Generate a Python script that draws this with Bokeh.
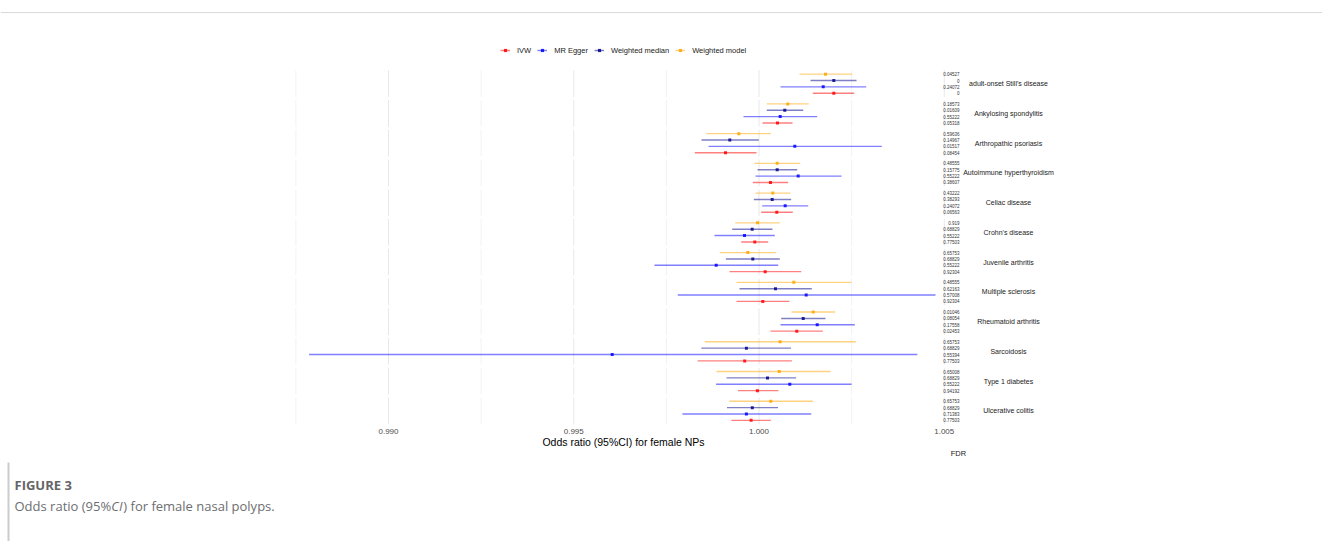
from bokeh.plotting import figure
from bokeh.layouts import column
from bokeh.models import (Range1d, Legend, LegendItem, FixedTicker,
                          PrintfTickFormatter, ColumnDataSource, Span)
from bokeh.core.properties import value
from bokeh.embed import file_html
from bokeh.resources import INLINE

# ---------------- data ----------------
diseases = ["adult-onset Still's disease", "Ankylosing spondylitis", "Arthropathic psoriasis",
            "Autoimmune hyperthyroidism", "Celiac disease", "Crohn's disease",
            "Juvenile arthritis", "Multiple sclerosis", "Rheumatoid arthritis",
            "Sarcoidosis", "Type 1 diabetes", "Ulcerative colitis"]

methods = ["IVW", "MR Egger", "Weighted median", "Weighted model"]

ivw_or = [1.002019, 1.000499, 0.999096, 1.000310, 1.000480, 0.999887,
          1.000167, 1.000103, 1.001020, 0.999614, 0.999957, 0.999787]
ivw_lo = [1.001452, 1.000094, 0.998267, 0.999833, 1.000059, 0.999520,
          0.999204, 0.999393, 1.000310, 0.998343, 0.999433, 0.999252]
ivw_hi = [1.002570, 1.000904, 0.999933, 1.000788, 1.000912, 1.000248,
          1.001139, 1.000823, 1.001722, 1.000888, 1.000524, 1.000318]
ivw_fdr = ["0", "0.05318", "0.08454", "0.38607", "0.06563", "0.77503",
           "0.92304", "0.92304", "0.02453", "0.77503", "0.94192", "0.77503"]

egger_or = [1.001733, 1.000572, 1.000966, 1.001058, 1.000707, 0.999609,
            0.998845, 1.001274, 1.001571, 0.996038, 1.000831, 0.999660]
egger_lo = [1.000580, 0.999582, 0.998637, 0.999906, 1.000086, 0.998799,
            0.997179, 0.997808, 1.000580, 0.987857, 0.998842, 0.997933]
egger_hi = [1.002893, 1.001571, 1.003314, 1.002227, 1.001328, 1.000426,
            1.000518, 1.004764, 1.002586, 1.004273, 1.002499, 1.001409]
egger_fdr = ["0.24072", "0.55222", "0.01517", "0.55222", "0.24072", "0.55222",
             "0.55222", "0.57008", "0.17558", "0.55394", "0.55222", "0.71383"]

wmed_or = [1.002019, 1.000696, 0.999212, 1.000491, 1.000356, 0.999816,
           0.999833, 1.000445, 1.001193, 0.999660, 1.000229, 0.999819]
wmed_lo = [1.001390, 1.000211, 0.998448, 0.999960, 0.999860, 0.999277,
           0.999104, 0.999474, 1.000599, 0.998445, 0.999123, 0.999136]
wmed_hi = [1.002632, 1.001193, 0.999995, 1.001031, 1.000869, 1.000364,
           1.000561, 1.001425, 1.001795, 1.000864, 1.001001, 1.000513]
wmed_fdr = ["0", "0.01609", "0.14967", "0.15775", "0.38293", "0.68829",
            "0.68829", "0.62163", "0.08054", "0.68829", "0.68829", "0.68829"]

wmod_or = [1.001795, 1.000777, 0.999455, 1.000491, 1.000372, 0.999960,
           0.999698, 1.000939, 1.001463, 1.000569, 1.000545, 1.000318]
wmod_lo = [1.001093, 1.000211, 0.998583, 0.999879, 0.999906, 0.999358,
           0.998942, 0.999393, 1.000877, 0.998534, 0.998853, 0.999196]
wmod_hi = [1.002516, 1.001344, 1.000318, 1.001112, 1.000850, 1.000561,
           1.000464, 1.002497, 1.002057, 1.002613, 1.001930, 1.001455]
wmod_fdr = ["0.04527", "0.18573", "0.59636", "0.48555", "0.43222", "0.919",
            "0.65753", "0.48555", "0.01046", "0.65753", "0.65008", "0.65753"]

x_ticks = [0.990, 0.995, 1.000, 1.005]
x_minor = [0.9875, 0.9925, 0.9975, 1.0025]

x_title = "Odds ratio (95%CI) for female NPs"
fdr_title = "FDR"
fig_label = "FIGURE 3"

# ---------------- layout / style ----------------
W = 1322
HA = 436
FRAME_H = 423
HB = 541 - HA
PX_ONE = 758.5        # pixel of OR = 1
PX_PER = 37050.0      # pixels per OR unit
x_start = 1 - PX_ONE / PX_PER
x_end = 1 + (W - PX_ONE) / PX_PER
FDR_X = 1 + (959 - PX_ONE) / PX_PER
LABEL_X = 1 + (1008 - PX_ONE) / PX_PER

ROW0 = 73.3
PANEL_STEP = 29.6
ROW_STEP = 6.33

colors = {"IVW": "#FF0000", "MR Egger": "#0000FF",
          "Weighted median": "#00008B", "Weighted model": "#FFA500"}
slot = {"Weighted model": 0, "Weighted median": 1, "MR Egger": 2, "IVW": 3}
series = {"IVW": (ivw_or, ivw_lo, ivw_hi, ivw_fdr),
          "MR Egger": (egger_or, egger_lo, egger_hi, egger_fdr),
          "Weighted median": (wmed_or, wmed_lo, wmed_hi, wmed_fdr),
          "Weighted model": (wmod_or, wmod_lo, wmod_hi, wmod_fdr)}

FONT = "Liberation Sans"

p = figure(width=W, height=HA, x_range=Range1d(x_start, x_end),
           y_range=Range1d(FRAME_H, 0), output_backend="svg",
           toolbar_location=None, y_axis_location=None,
           min_border_left=0, min_border_right=0, min_border_top=0, min_border_bottom=0)
p.outline_line_color = None
p.grid.visible = False
p.background_fill_color = "white"
p.border_fill_color = "white"

ax = p.xaxis[0]
ax.ticker = FixedTicker(ticks=x_ticks, minor_ticks=[])
ax.formatter = PrintfTickFormatter(format="%.3f")
ax.axis_line_color = None
ax.major_tick_line_color = None
ax.minor_tick_line_color = None
ax.major_tick_out = 0
ax.major_tick_in = 0
ax.major_label_standoff = 3
ax.major_label_text_font = FONT
ax.major_label_text_font_size = "8px"
ax.major_label_text_color = "#4D4D4D"

# top rule
p.add_layout(Span(location=12, dimension="width", line_color="#d9d9d9", line_width=1))

# panel gridlines
gx_maj, gy0_maj, gy1_maj = [], [], []
gx_min, gy0_min, gy1_min = [], [], []
for i in range(len(diseases)):
    top = ROW0 + i * PANEL_STEP - 3.8
    bot = ROW0 + i * PANEL_STEP + 3 * ROW_STEP + 3.8
    for t in x_ticks:
        gx_maj.append(t); gy0_maj.append(top); gy1_maj.append(bot)
    for t in x_minor:
        gx_min.append(t); gy0_min.append(top); gy1_min.append(bot)
p.segment(x0=gx_min, y0=gy0_min, x1=gx_min, y1=gy1_min, line_color="#EFEFEF", line_width=0.8)
p.segment(x0=gx_maj, y0=gy0_maj, x1=gx_maj, y1=gy1_maj, line_color="#E8E8E8", line_width=1)

items = []
fdr_x, fdr_y, fdr_t = [], [], []
for m in methods:
    est, lo, hi, fdr = series[m]
    ys = [ROW0 + i * PANEL_STEP + slot[m] * ROW_STEP for i in range(len(diseases))]
    src = ColumnDataSource(dict(est=est, lo=lo, hi=hi, y=ys))
    c = colors[m]
    r1 = p.segment(x0="lo", y0="y", x1="hi", y1="y", source=src,
                   line_color=c, line_width=1.4, line_alpha=0.5)
    r2 = p.scatter(x="est", y="y", source=src, marker="square", size=3,
                   fill_color=c, line_color=None, fill_alpha=0.85)
    items.append(LegendItem(label=m, renderers=[r1, r2]))
    fdr_x += [FDR_X] * len(fdr); fdr_y += ys; fdr_t += fdr

p.text(x=fdr_x, y=fdr_y, text=fdr_t, text_align="right", text_baseline="middle",
       text_font=value(FONT), text_font_size="4.5px", text_color="#333333")

centers = [ROW0 + i * PANEL_STEP + 1.5 * ROW_STEP for i in range(len(diseases))]
p.text(x=[LABEL_X] * len(diseases), y=centers, text=diseases, text_align="center",
       text_baseline="middle", text_font=value(FONT), text_font_size="7px",
       text_color="#1A1A1A")

legend = Legend(items=items, orientation="horizontal", location=(500, 370.5),
                padding=0, margin=0, spacing=6, glyph_width=10, glyph_height=8,
                label_standoff=7, label_width=0, label_height=8,
                label_text_font=FONT, label_text_font_size="7.5px",
                label_text_color="#1A1A1A", border_line_color=None,
                background_fill_alpha=0)
p.add_layout(legend)

# ---------------- lower band: axis title, FDR, caption ----------------
q = figure(width=W, height=HB, x_range=Range1d(0, W), y_range=Range1d(541, HA),
           output_backend="svg", toolbar_location=None,
           x_axis_location=None, y_axis_location=None,
           min_border_left=0, min_border_right=0, min_border_top=0, min_border_bottom=0)
q.outline_line_color = None
q.grid.visible = False
q.background_fill_color = "white"
q.border_fill_color = "white"

q.text(x=[623], y=[441.5], text=[x_title], text_align="center", text_baseline="middle",
       text_font=value(FONT), text_font_size="10.5px", text_color="#000000")
q.text(x=[958], y=[452.5], text=[fdr_title], text_align="center", text_baseline="middle",
       text_font=value(FONT), text_font_size="7.5px", text_color="#1A1A1A")
q.segment(x0=[8], y0=[462], x1=[8], y1=[541], line_color="#cccccc", line_width=2)

CAP = "Open Sans"
q.text(x=[14], y=[484], text=[fig_label], text_align="left", text_baseline="middle",
       text_font=value(CAP), text_font_size="13px", text_font_style="bold",
       text_color="#636466")
cap_size = 13
q.text(x=[14], y=[505], text=["Odds ratio (95%"], text_align="left", text_baseline="middle",
       text_font=value(CAP), text_font_size=f"{cap_size}px", text_color="#6d6e71")
q.text(x=[14 + 7.45 * cap_size], y=[505], text=["CI"], text_align="left",
       text_baseline="middle", text_font=value(CAP), text_font_size=f"{cap_size}px",
       text_font_style="italic", text_color="#6d6e71")
q.text(x=[14 + 8.37 * cap_size], y=[505], text=[") for female nasal polyps."],
       text_align="left", text_baseline="middle", text_font=value(CAP),
       text_font_size=f"{cap_size}px", text_color="#6d6e71")

layout = column(p, q, spacing=0)
open("out.html", "w").write(file_html(layout, INLINE))
